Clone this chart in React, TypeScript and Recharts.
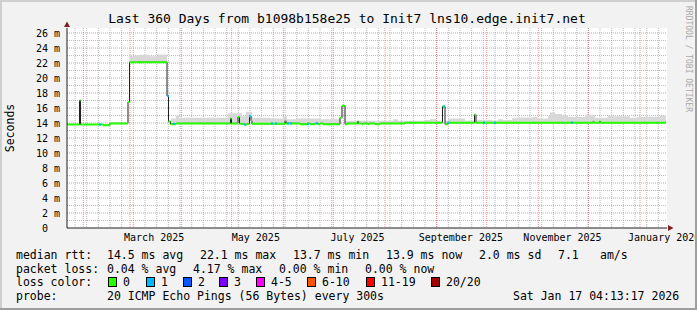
import React from "react";
import {
  ComposedChart,
  Area,
  Scatter,
  XAxis,
  YAxis,
  CartesianGrid,
  ReferenceDot,
} from "recharts";

const MONO = "'DejaVu Sans Mono', monospace";

// median rtt, change points: days since window start -> ms
const medianDays = [
  0, 7.5, 8.1, 21.6, 25.8, 36.6, 37.5, 60, 60.9, 62.1, 65.4, 98.1, 98.7, 102.6,
  103.5, 106.2, 108, 109.5, 110.4, 111, 130.8, 131.4, 139.8, 144, 145.8, 148.8,
  150.6, 151.8, 153.6, 163.8, 165, 166.8, 168, 174.3, 174.9, 177, 177.6, 180.6,
  181.2, 184.8, 187.8, 202.8, 225.3, 226.8, 228.6, 244.5, 245.4, 315.6, 316.2,
  319.5, 320.1,
];
const medianMs = [
  13.8, 17.0, 13.8, 13.7, 13.95, 16.8, 22.1, 17.6, 14.2, 13.85, 13.95, 14.6,
  13.95, 14.8, 13.9, 13.8, 13.9, 14.9, 14.3, 13.9, 14.3, 13.95, 13.85, 13.95,
  13.85, 13.95, 13.85, 13.95, 13.85, 14.7, 16.3, 13.85, 13.95, 14.2, 13.95,
  13.85, 13.95, 13.85, 13.95, 13.85, 13.95, 14.05, 16.2, 13.85, 14.05, 15.1,
  14.05, 14.2, 14.05, 14.2, 14.05,
];

// upper edge of the smoke (max ping), change points
const smokeDays = [
  0, 37.5, 43.8, 49.8, 54.6, 60, 61.2, 62.4, 65.4, 67.2, 96.6, 105, 107.4, 111,
  121.8, 129.6, 132, 138, 151.8, 163.8, 166.8, 195.6, 198.6, 214.8, 217.8, 221.4,
  228.6, 238.8, 246.6, 255, 258.6, 261.6, 267, 270, 279.6, 282, 288.6, 289.8,
  292.8, 297, 300.6, 310.8, 316.8, 324.6, 327.6, 337.8, 342, 348, 355.8,
];
const smokeMs = [
  0, 23.0, 23.1, 22.9, 23.15, 18.3, 14.3, 14.6, 15.0, 14.7, 15.3, 14.9, 15.5,
  14.7, 14.6, 14.9, 14.5, 14.6, 14.5, 14.8, 14.3, 14.5, 14.3, 14.4, 14.55, 14.3,
  14.6, 14.35, 14.45, 14.35, 14.5, 14.4, 14.65, 14.75, 14.85, 14.6, 14.9, 15.4,
  15.2, 15.0, 14.8, 15.1, 14.7, 15.0, 14.9, 14.7, 14.8, 14.85, 15.0,
];

// samples with 1/20 loss
const lossDays = [19.8, 60.6, 64.2, 106.8, 109.8, 123, 125.4, 132.6, 134.4, 144.6, 150, 226.2, 228.8, 250.2, 256.8, 303];
const lossMs = [13.8, 17.6, 13.9, 13.8, 14.9, 13.95, 13.95, 13.95, 13.95, 13.85, 13.95, 16.2, 14.05, 14.05, 14.05, 14.05];

const endDay = 359.4;

const monthDays = [9.8, 37.8, 68.8, 98.8, 129.8, 159.8, 190.8, 221.8, 251.8, 282.8, 312.8, 343.8];
const weekDays = Array.from({ length: 51 }, (_, i) => 4.8 + i * 7);
const labelDays = [52.3, 113.3, 174.3, 236.3, 297.3, 358.3];
const labelNames = ["March 2025", "May 2025", "July 2025", "September 2025", "November 2025", "January 2026"];
const yMajor = [2, 4, 6, 8, 10, 12, 14, 16, 18, 20, 22, 24, 26];
const yMinor = [1, 3, 5, 7, 9, 11, 13, 15, 17, 19, 21, 23, 25];
const yTicks = [0, ...yMajor];

const lossColors = [
  { label: "0", color: "#26ff00" },
  { label: "1", color: "#00b8ff" },
  { label: "2", color: "#0059ff" },
  { label: "3", color: "#7e00ff" },
  { label: "4-5", color: "#ff00ff" },
  { label: "6-10", color: "#ff5500" },
  { label: "11-19", color: "#ff0000" },
  { label: "20/20", color: "#a10000" },
];
const lossX = [108, 146, 183, 219, 256, 307, 366, 431];

const stepAt = (days: number[], vals: number[], d: number) => {
  let v = vals[0];
  for (let i = 0; i < days.length; i++) {
    if (days[i] <= d) v = vals[i];
    else break;
  }
  return v;
};

const allDays = Array.from(new Set([...medianDays, ...smokeDays, endDay])).sort((a, b) => a - b);
const rows = allDays.map((day) => {
  const m = stepAt(medianDays, medianMs, day);
  const s = Math.max(m, stepAt(smokeDays, smokeMs, day));
  return { day, median: m, smoke: [m, s], band: [m - 0.133, m + 0.133] };
});
const lossRows = lossDays.map((day, i) => ({ day, loss: lossMs[i] }));

function YTick(props: any) {
  const { x, y, payload } = props;
  const v = payload.value;
  return (
    <g fontFamily={MONO} fontSize={10} fill="#000">
      <text x={x - 19} y={y} dy="0.355em" textAnchor="end">{v}</text>
      {v !== 0 && <text x={x - 13} y={y} dy="0.355em">m</text>}
    </g>
  );
}

function LossMark(props: any) {
  return <rect x={props.cx - 1} y={props.cy - 1} width={2} height={2} fill="#00b8ff" />;
}

function UpArrow(props: any) {
  const { cx, cy } = props;
  return <polygon points={`${cx - 3},${cy - 1} ${cx + 3},${cy - 1} ${cx},${cy - 6.5}`} fill="#801f1f" />;
}

function RightArrow(props: any) {
  const { cx, cy } = props;
  return <polygon points={`${cx + 1},${cy - 3} ${cx + 1},${cy + 3} ${cx + 6.5},${cy}`} fill="#801f1f" />;
}

export default function App() {
  const legend = { fontFamily: MONO, fontSize: 11.5, fill: "#000" };
  return (
    <div style={{ position: "fixed", left: 0, top: 0, width: 697, height: 310, background: "#f2f2f2", overflow: "hidden" }}>
      <ComposedChart width={697} height={310} data={rows} margin={{ top: 28, right: 30, bottom: 52, left: 0 }}>
        <CartesianGrid
          fill="#fff"
          stroke="#8f8f8f"
          strokeOpacity={0.6}
          strokeDasharray="1 1"
          horizontalValues={yMinor}
          verticalValues={weekDays}
        />
        <CartesianGrid
          fill="none"
          stroke="#de5050"
          strokeOpacity={0.6}
          strokeDasharray="1 1"
          horizontalValues={yMajor}
          verticalValues={monthDays}
        />
        <XAxis
          dataKey="day"
          type="number"
          domain={[0, 360]}
          allowDataOverflow
          ticks={labelDays}
          interval={0}
          tickFormatter={(v: number) => labelNames[labelDays.indexOf(v)] ?? ""}
          axisLine={{ stroke: "#1f1f1f" }}
          tickLine={false}
          tickSize={0}
          tickMargin={6}
          height={30}
          tick={{ fontFamily: MONO, fontSize: 10, fill: "#000" }}
        />
        <YAxis
          type="number"
          domain={[0, 26.67]}
          allowDataOverflow
          ticks={yTicks}
          interval={0}
          width={67}
          axisLine={{ stroke: "#1f1f1f" }}
          tickLine={false}
          tickSize={0}
          tickMargin={0}
          tick={<YTick />}
        />
        <Area dataKey="smoke" type="stepAfter" stroke="none" fill="#d8d8d8" fillOpacity={1} isAnimationActive={false} />
        <Area dataKey="median" type="stepAfter" stroke="#202020" strokeWidth={1} fill="none" isAnimationActive={false} />
        <Area dataKey="band" type="stepAfter" stroke="none" fill="#26ff00" fillOpacity={1} isAnimationActive={false} />
        <Scatter data={lossRows} dataKey="loss" shape={<LossMark />} isAnimationActive={false} />
        <ReferenceDot x={0} y={26.67} ifOverflow="visible" shape={<UpArrow />} />
        <ReferenceDot x={360} y={0} ifOverflow="visible" shape={<RightArrow />} />
      </ComposedChart>
      <svg width={697} height={310} style={{ position: "absolute", left: 0, top: 0, pointerEvents: "none" }}>
        <rect x={0} y={0} width={697} height={2} fill="#cfcfcf" />
        <rect x={0} y={0} width={2} height={310} fill="#cfcfcf" />
        <rect x={0} y={308} width={697} height={2} fill="#9e9e9e" />
        <rect x={695} y={0} width={2} height={310} fill="#9e9e9e" />
        <text x={347} y={23} textAnchor="middle" fontFamily={MONO} fontSize={13} fill="#000">
          Last 360 Days from b1098b158e25 to Init7 lns10.edge.init7.net
        </text>
        <text
          x={10}
          y={128}
          transform="rotate(-90 10 128)"
          textAnchor="middle"
          dominantBaseline="central"
          fontFamily={MONO}
          fontSize={11.5}
          fill="#000"
        >
          Seconds
        </text>
        <text
          x={688}
          y={59}
          transform="rotate(90 688 59)"
          textAnchor="middle"
          dominantBaseline="central"
          fontFamily={MONO}
          fontSize={8}
          fill="#a8a8a8"
        >
          RRDTOOL / TOBI OETIKER
        </text>
        <g style={{ whiteSpace: "pre" }} {...legend}>
          <text x={16} y={258.5}>median rtt:</text>
          <text x={107} y={258.5}>14.5 ms avg</text>
          <text x={200} y={258.5}>22.1 ms max</text>
          <text x={293} y={258.5}>13.7 ms min</text>
          <text x={386} y={258.5}>13.9 ms now</text>
          <text x={479} y={258.5}>2.0 ms sd</text>
          <text x={558} y={258.5}>7.1</text>
          <text x={600} y={258.5}>am/s</text>

          <text x={16} y={272.5}>packet loss:</text>
          <text x={107} y={272.5}>0.04 % avg</text>
          <text x={193} y={272.5}>4.17 % max</text>
          <text x={279} y={272.5}>0.00 % min</text>
          <text x={365} y={272.5}>0.00 % now</text>

          <text x={16} y={286.3}>loss color:</text>
          {lossColors.map((c, i) => (
            <g key={c.label}>
              <rect x={lossX[i] + 0.5} y={277.5} width={8} height={9} fill={c.color} stroke="#000" strokeWidth={1} />
              <text x={lossX[i] + 15} y={286.3}>{c.label}</text>
            </g>
          ))}

          <text x={16} y={300}>probe:</text>
          <text x={107} y={300}>20 ICMP Echo Pings (56 Bytes) every 300s</text>
          <text x={513} y={300}>Sat Jan 17 04:13:17 2026</text>
        </g>
      </svg>
    </div>
  );
}
